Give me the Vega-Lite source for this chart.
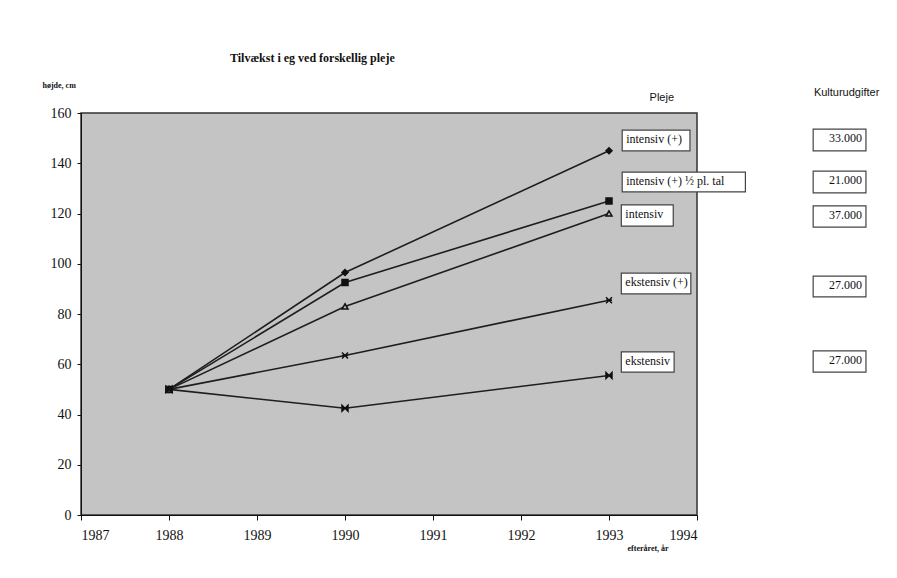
{
  "$schema": "https://vega.github.io/schema/vega-lite/v6.json",
  "width": 616,
  "height": 402,
  "autosize": {"type": "none"},
  "padding": {"left": 81, "top": 113, "right": 200, "bottom": 63},
  "background": "white",
  "config": {
    "view": {"fill": "#c4c4c4", "stroke": "#333333", "strokeWidth": 1.5},
    "axis": {"grid": false, "domainColor": "#111111", "tickColor": "#111111", "labelColor": "#111111", "labelFont": "Liberation Serif", "labelFontSize": 14, "titleFont": "Liberation Serif", "titleColor": "#111111"},
    "text": {"font": "Liberation Serif"}
  },
  "title": {"text": "Tilvækst i eg ved forskellig pleje", "font": "Liberation Serif", "fontSize": 12, "fontWeight": "bold", "anchor": "start", "dx": 188, "offset": 16, "color": "#111111"},
  "datasets": {
    "series": [
      {"pleje": "intensiv (+)", "year": 1988, "height": 50},
      {"pleje": "intensiv (+)", "year": 1990, "height": 96.5},
      {"pleje": "intensiv (+)", "year": 1993, "height": 145},
      {"pleje": "intensiv (+) ½ pl. tal", "year": 1988, "height": 50},
      {"pleje": "intensiv (+) ½ pl. tal", "year": 1990, "height": 92.5},
      {"pleje": "intensiv (+) ½ pl. tal", "year": 1993, "height": 125},
      {"pleje": "intensiv", "year": 1988, "height": 50},
      {"pleje": "intensiv", "year": 1990, "height": 83},
      {"pleje": "intensiv", "year": 1993, "height": 120},
      {"pleje": "ekstensiv (+)", "year": 1988, "height": 50},
      {"pleje": "ekstensiv (+)", "year": 1990, "height": 63.5},
      {"pleje": "ekstensiv (+)", "year": 1993, "height": 85.5},
      {"pleje": "ekstensiv", "year": 1988, "height": 50},
      {"pleje": "ekstensiv", "year": 1990, "height": 42.5},
      {"pleje": "ekstensiv", "year": 1993, "height": 55.5}
    ],
    "pleje": [
      {"label": "intensiv (+)", "x1": 1993.15, "x2": 1993.92, "y1": 153.2, "y2": 144.9},
      {"label": "intensiv (+) ½ pl. tal", "x1": 1993.15, "x2": 1994.55, "y1": 136.5, "y2": 128.6},
      {"label": "intensiv", "x1": 1993.14, "x2": 1993.73, "y1": 123.4, "y2": 115.0},
      {"label": "ekstensiv (+)", "x1": 1993.14, "x2": 1993.93, "y1": 96.3, "y2": 88.0},
      {"label": "ekstensiv", "x1": 1993.14, "x2": 1993.74, "y1": 64.9, "y2": 56.9}
    ],
    "udgift": [
      {"label": "33.000", "x1": 1995.32, "x2": 1995.92, "y1": 153.6, "y2": 144.9},
      {"label": "21.000", "x1": 1995.32, "x2": 1995.92, "y1": 136.9, "y2": 128.2},
      {"label": "37.000", "x1": 1995.32, "x2": 1995.92, "y1": 123.0, "y2": 114.6},
      {"label": "27.000", "x1": 1995.32, "x2": 1995.92, "y1": 95.1, "y2": 86.8},
      {"label": "27.000", "x1": 1995.32, "x2": 1995.92, "y1": 65.3, "y2": 56.9}
    ],
    "headers": [
      {"label": "Pleje", "x": 1993.6, "y": 166},
      {"label": "Kulturudgifter", "x": 1995.7, "y": 168}
    ]
  },
  "layer": [
    {
      "data": {"name": "series"},
      "mark": {"type": "line", "color": "#1e1e1e", "strokeWidth": 1.6},
      "encoding": {
        "x": {"field": "year", "type": "quantitative", "scale": {"domain": [1987, 1994], "nice": false, "zero": false},
              "axis": {"values": [1987, 1988, 1989, 1990, 1991, 1992, 1993, 1994], "format": "d", "tickSize": 5, "labelPadding": 8,
                       "title": "efteråret, år", "titleFontSize": 8, "titleFontWeight": "bold", "titleAngle": 0, "titleAlign": "left", "titleBaseline": "middle", "titleX": 546, "titleY": 33}},
        "y": {"field": "height", "type": "quantitative", "scale": {"domain": [0, 160], "nice": false},
              "axis": {"values": [0, 20, 40, 60, 80, 100, 120, 140, 160], "tickSize": 4, "labelPadding": 6,
                       "title": "højde, cm", "titleFontSize": 8, "titleFontWeight": "bold", "titleAngle": 0, "titleAlign": "left", "titleBaseline": "middle", "titleX": -39, "titleY": -28}},
        "detail": {"field": "pleje"}
      }
    },
    {
      "data": {"name": "series"},
      "mark": {"type": "point", "filled": true, "stroke": "#111111", "strokeWidth": 1.5, "opacity": 1},
      "encoding": {
        "x": {"field": "year", "type": "quantitative"},
        "y": {"field": "height", "type": "quantitative"},
        "shape": {"field": "pleje", "type": "nominal", "legend": null,
                  "scale": {"domain": ["intensiv (+)", "intensiv (+) ½ pl. tal", "intensiv", "ekstensiv (+)", "ekstensiv"],
                            "range": ["diamond", "square", "triangle-up", "M-1,-1L1,1M1,-1L-1,1M-1,0L1,0", "M-1,-1L1,1L1,-1L-1,1Z"]}},
        "fill": {"field": "pleje", "type": "nominal", "legend": null,
                 "scale": {"domain": ["intensiv (+)", "intensiv (+) ½ pl. tal", "intensiv", "ekstensiv (+)", "ekstensiv"],
                           "range": ["#111111", "#111111", "#bbbbbb", "#111111", "#111111"]}},
        "size": {"value": 36}
      }
    },
    {
      "data": {"name": "pleje"},
      "mark": {"type": "rect", "fill": "white", "stroke": "#444444", "strokeWidth": 1.2},
      "encoding": {
        "x": {"field": "x1", "type": "quantitative"},
        "x2": {"field": "x2"},
        "y": {"field": "y1", "type": "quantitative"},
        "y2": {"field": "y2"}
      }
    },
    {
      "data": {"name": "pleje"},
      "mark": {"type": "text", "align": "left", "baseline": "top", "dx": 4, "dy": 4, "fontSize": 12, "color": "#111111"},
      "encoding": {
        "x": {"field": "x1", "type": "quantitative"},
        "y": {"field": "y1", "type": "quantitative"},
        "text": {"field": "label"}
      }
    },
    {
      "data": {"name": "udgift"},
      "mark": {"type": "rect", "fill": "white", "stroke": "#444444", "strokeWidth": 1.2},
      "encoding": {
        "x": {"field": "x1", "type": "quantitative"},
        "x2": {"field": "x2"},
        "y": {"field": "y1", "type": "quantitative"},
        "y2": {"field": "y2"}
      }
    },
    {
      "data": {"name": "udgift"},
      "mark": {"type": "text", "align": "right", "baseline": "top", "dx": -4, "dy": 4, "fontSize": 12, "color": "#111111"},
      "encoding": {
        "x": {"field": "x2", "type": "quantitative"},
        "y": {"field": "y1", "type": "quantitative"},
        "text": {"field": "label"}
      }
    },
    {
      "data": {"name": "headers"},
      "mark": {"type": "text", "align": "center", "baseline": "middle", "fontSize": 11, "font": "Liberation Sans", "color": "#111111"},
      "encoding": {
        "x": {"field": "x", "type": "quantitative"},
        "y": {"field": "y", "type": "quantitative"},
        "text": {"field": "label"}
      }
    }
  ]
}
